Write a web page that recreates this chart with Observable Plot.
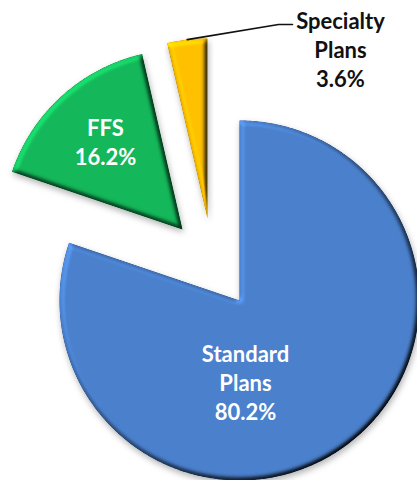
<!DOCTYPE html>
<html><head><meta charset="utf-8">
<script src="https://cdn.jsdelivr.net/npm/d3@7"></script>
<script src="https://cdn.jsdelivr.net/npm/@observablehq/plot@0.6"></script>
<style>html,body{margin:0;padding:0;background:#fff;overflow:hidden;}</style>
</head><body><div id="chart"></div>
<script>
// ---- data ----
const categories = ["Standard Plans", "FFS", "Specialty Plans"];
const shares = [80.2, 16.2, 3.6];
const shareLabels = ["80.2%", "16.2%", "3.6%"];
const labelLines = [["Standard", "Plans"], ["FFS"], ["Specialty", "Plans"]];
const sliceColors = ["#4a80cc", "#14b75a", "#ffc000"];
const labelColors = ["#ffffff", "#ffffff", "#111111"];

// ---- layout ----
const W = 417, H = 480, cx = 239, cy = 300, R = 180;
const explode = [[0, 0], [-57, -71], [-32, -82]];
const labelPos = [[245, 381], [105, 141], [340, 48]];
const leaderElbow = [[278, 24], [292, 24]];

const arcs = d3.pie().sort(null).startAngle(0).endAngle(2 * Math.PI)(shares);
const slicePts = arcs.flatMap((a, i) => {
  const ax = cx + explode[i][0], ay = cy + explode[i][1];
  const n = Math.max(6, Math.ceil((a.endAngle - a.startAngle) / (Math.PI / 360)));
  const p = [{i, x: ax, y: ay, color: sliceColors[i]}];
  for (let k = 0; k <= n; k++) {
    const t = a.startAngle + (a.endAngle - a.startAngle) * k / n;
    p.push({i, x: ax + R * Math.sin(t), y: ay - R * Math.cos(t), color: sliceColors[i]});
  }
  return p;
});

const labels = categories.map((c, i) => ({
  x: labelPos[i][0], y: labelPos[i][1],
  text: [...labelLines[i], shareLabels[i]].join("\n"),
  color: labelColors[i]
}));

const sa = arcs[2], smid = (sa.startAngle + sa.endAngle) / 2;
const sx = cx + explode[2][0], sy = cy + explode[2][1];
const leader = [{x: sx + R * Math.sin(smid), y: sy - R * Math.cos(smid)},
  ...leaderElbow.map(([x, y]) => ({x, y}))];

const chart = Plot.plot({
  width: W, height: H, margin: 0,
  style: {background: "#fff", overflow: "hidden"},
  x: {domain: [0, W], range: [0, W], axis: null},
  y: {domain: [0, H], range: [0, H], axis: null},
  marks: [
    Plot.line(slicePts, {x: "x", y: "y", z: "i", fill: "color", stroke: "none",
      curve: "linear-closed", ariaDescription: "base"}),
    Plot.line(slicePts, {x: "x", y: "y", z: "i", fill: "color", stroke: "none",
      curve: "linear-closed", ariaDescription: "slices"}),
    Plot.line(leader, {x: "x", y: "y", stroke: "#111", strokeWidth: 1.6}),
    Plot.text(labels, {x: "x", y: "y", text: "text", fill: "color", fontSize: 22,
      fontWeight: "bold", fontFamily: "Lato", lineHeight: 1.32,
      textAnchor: "middle", lineAnchor: "middle"})
  ]
});

const ns = "http://www.w3.org/2000/svg";
const defs = document.createElementNS(ns, "defs");
defs.innerHTML = `
<filter id="bev" x="-10%" y="-10%" width="125%" height="125%" color-interpolation-filters="sRGB">
  <feGaussianBlur in="SourceAlpha" stdDeviation="3" result="sb"/>
  <feOffset in="sb" dx="1" dy="3" result="so"/>
  <feFlood flood-color="#000" flood-opacity="0.3" result="fl"/>
  <feComposite in="fl" in2="so" operator="in" result="shadow"/>
  <feGaussianBlur in="SourceAlpha" stdDeviation="2.5" result="b"/>
  <feDiffuseLighting in="b" surfaceScale="4" diffuseConstant="1" lighting-color="#fff" result="d">
    <feDistantLight azimuth="225" elevation="55"/>
  </feDiffuseLighting>
  <feComposite in="SourceGraphic" in2="d" operator="arithmetic" k1="1.22" k2="0" k3="0" k4="0" result="lit"/>
  <feComposite in="lit" in2="SourceAlpha" operator="in" result="litc"/>
  <feMerge><feMergeNode in="shadow"/><feMergeNode in="litc"/></feMerge>
</filter>`;
chart.insertBefore(defs, chart.firstChild);
chart.querySelectorAll('g[aria-description="slices"] path').forEach(p => p.setAttribute("filter", "url(#bev)"));
document.getElementById("chart").appendChild(chart);
</script></body></html>
